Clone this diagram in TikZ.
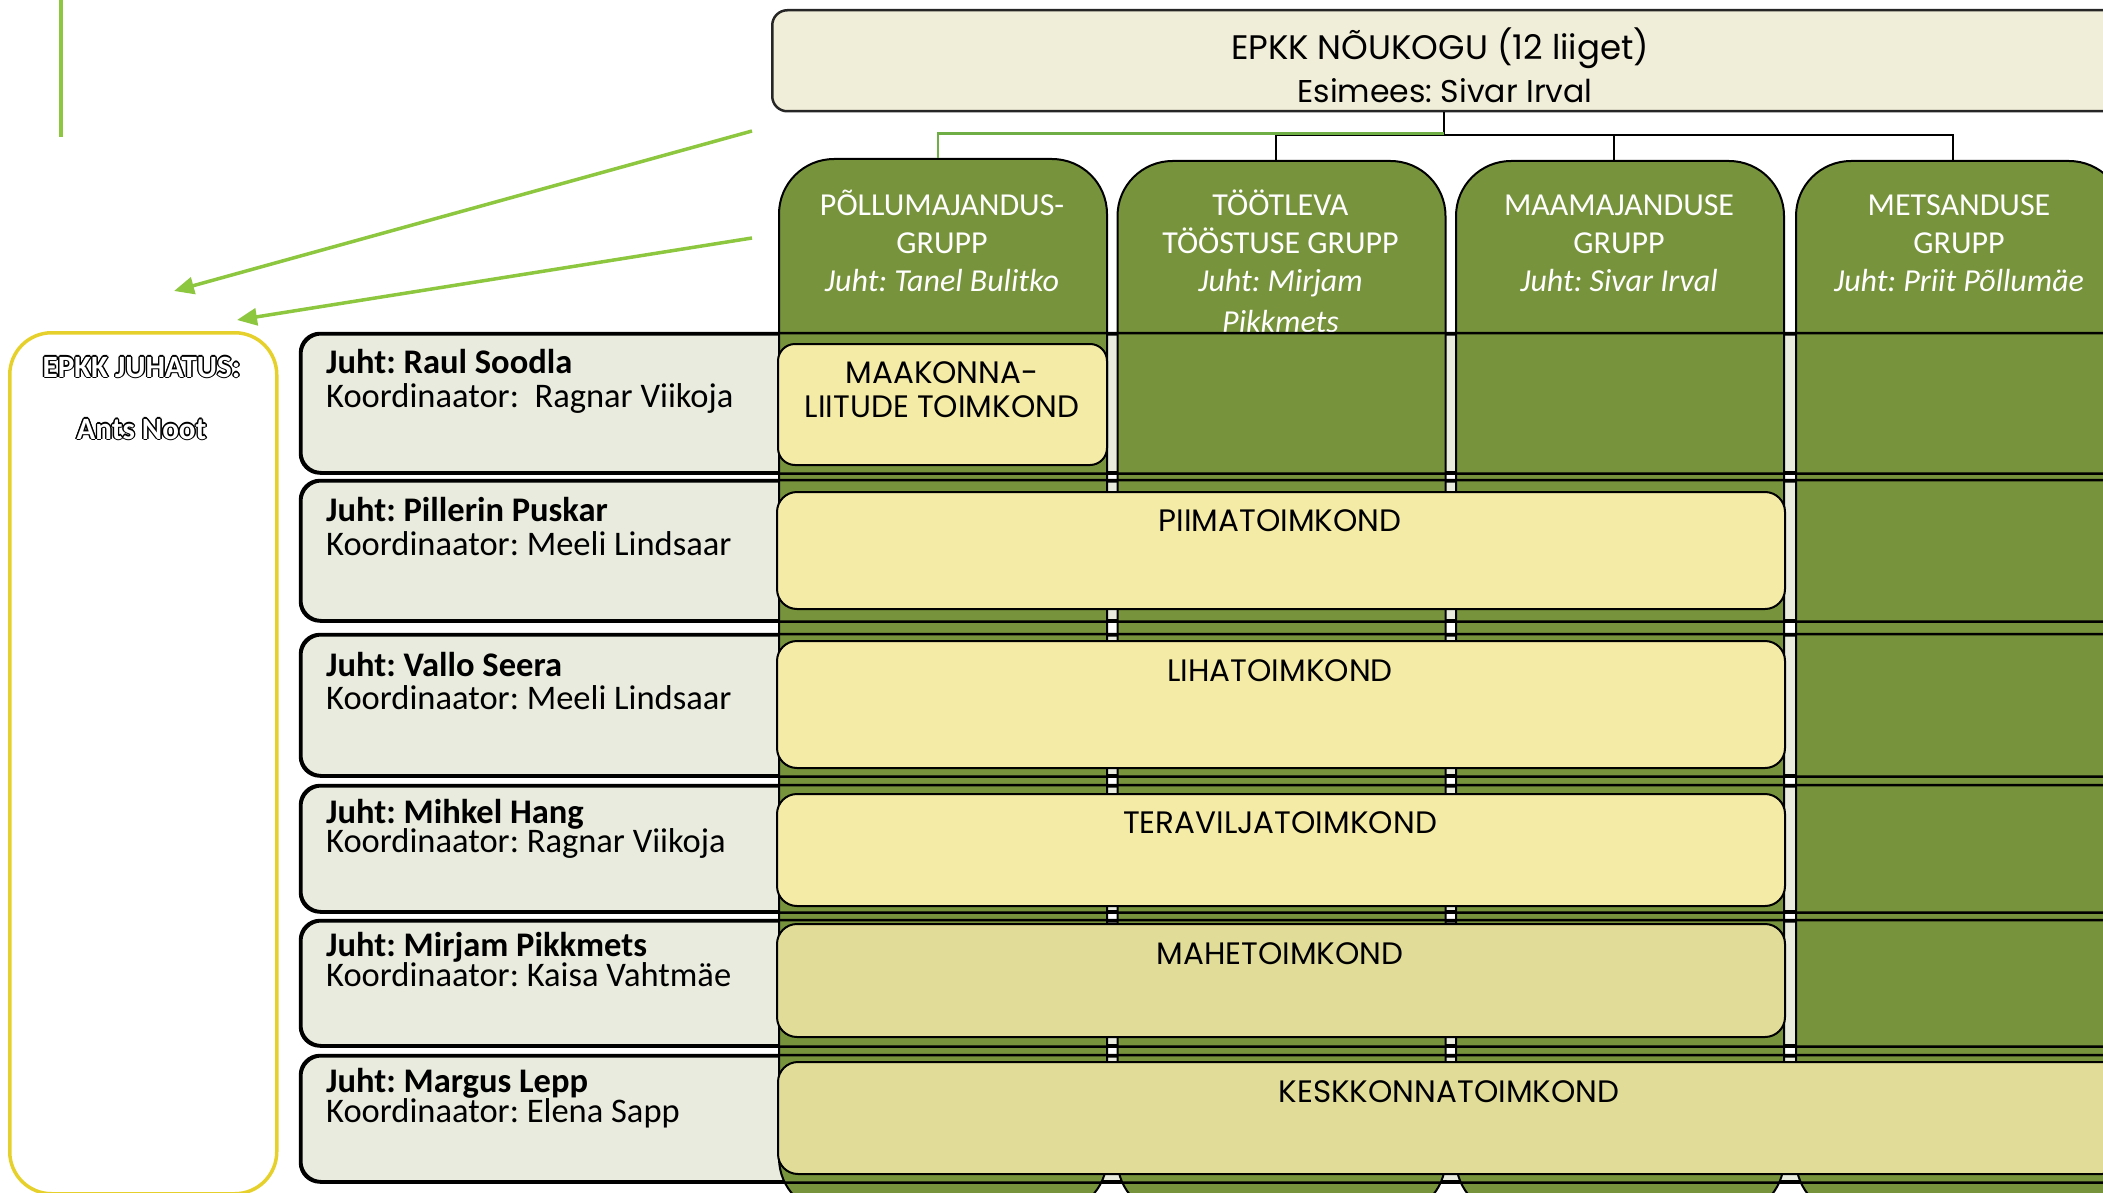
\documentclass[tikz,border=0pt]{standalone}
\usepackage{fontspec}
\setmainfont{Carlito}
\newfontfamily\gothic{Poppins}
\usetikzlibrary{arrows.meta}
\frenchspacing
\definecolor{colgreen}{HTML}{77933C}
\definecolor{rowfill}{HTML}{E8EBDD}
\definecolor{topfill}{HTML}{F0EDD8}
\definecolor{yel}{HTML}{F4EBA6}
\definecolor{yeld}{HTML}{E1DD98}
\definecolor{ltgreen}{HTML}{8DC63F}
\definecolor{cgreen}{HTML}{6FAE45}
\definecolor{jborder}{HTML}{E6D12C}
\tikzset{
  rowbox/.style={draw=black, line width=2.5pt, fill=rowfill, rounded corners=20pt, anchor=north west, inner sep=0pt, minimum width=1840pt},
  rowline/.style={draw=black, line width=2.5pt, rounded corners=20pt},
  colbox/.style={draw=black, line width=2pt, fill=colgreen, rounded corners=55pt, anchor=north west, inner sep=0pt, minimum width=328pt, minimum height=1054pt},
  tkbox/.style={draw=black, line width=2pt, rounded corners=20pt, anchor=north west, inner sep=0pt},
  rowtxt/.style={anchor=base west, inner sep=0pt, font=\frenchspacing\fontsize{34.5}{40}\selectfont},
  coltxt/.style={anchor=base, inner sep=0pt, text=white, font=\frenchspacing\fontsize{32}{38}\selectfont},
  tktxt/.style={anchor=base, inner sep=0pt, font=\frenchspacing\gothic\fontsize{31}{36}\selectfont},
  toptxt/.style={anchor=base, inner sep=0pt, font=\frenchspacing\gothic\fontsize{34}{40}\selectfont},
  jtxt/.style={anchor=base, inner sep=0pt, font=\frenchspacing\bfseries\fontsize{31}{36}\selectfont},
  arr/.style={draw=ltgreen, line width=3.5pt, -{Triangle[length=20pt,width=17pt]}},
  conn/.style={draw=black, line width=2pt},
  conngreen/.style={draw=cgreen, line width=2.5pt},
}
\begin{document}
\begin{tikzpicture}[x=1pt,y=-1pt]
\useasboundingbox (0,0) rectangle (2103,1193);
\clip (0,0) rectangle (2103,1193);

% top-left accent line
\coordinate (accA) at (61,0);
\coordinate (accB) at (61,137);
\draw[draw=ltgreen, line width=4pt] (accA) -- (accB);

% council box
\node[draw=black!85, line width=2.5pt, fill=topfill, rounded corners=15pt, anchor=north west,
      inner sep=0pt, minimum width=1346pt, minimum height=101pt] (top) at (771,9) {};
\node[toptxt] (topa) at (1440,59.5) {EPKK NÕUKOGU (12 liiget)};
\node[toptxt, font=\frenchspacing\gothic\fontsize{31.5}{38}\selectfont] (topb) at (1445,103) {Esimees: Sivar Irval};

% board box
\node[draw=jborder, line width=3.5pt, fill=white, rounded corners=42pt, anchor=north west,
      inner sep=0pt, minimum width=267pt, minimum height=861pt] (juh) at (8,331) {};
\foreach \a in {0,45,...,315}{
  \node[jtxt, text=black, xshift={1.4*cos(\a)}, yshift={1.4*sin(\a)}] (jA\a) at (141.5,377) {EPKK JUHATUS:};
  \node[jtxt, text=black, xshift={1.4*cos(\a)}, yshift={1.4*sin(\a)}] (jB\a) at (141.5,439) {Ants Noot};
}
\node[jtxt, text=white] (ja) at (141.5,377) {EPKK JUHATUS:};
\node[jtxt, text=white] (jb) at (141.5,439) {Ants Noot};

% arrows
\coordinate (a1s) at (752,131);
\coordinate (a1e) at (174,291);
\coordinate (a2s) at (752,238);
\coordinate (a2e) at (237,320);
\draw[arr] (a1s) -- (a1e);
\draw[arr] (a2s) -- (a2e);

% row boxes (fill)
\node[rowbox, minimum height=138pt] (r1) at (300,333) {};
\node[rowbox, minimum height=139pt] (r2) at (300,480) {};
\node[rowbox, minimum height=140pt] (r3) at (300,634) {};
\node[rowbox, minimum height=125pt] (r4) at (300,785) {};
\node[rowbox, minimum height=124pt] (r5) at (300,920) {};
\node[rowbox, minimum height=125pt] (r6) at (300,1055) {};

% row texts
\node[rowtxt] (r1a) at (326,373) {\textbf{Juht: Raul Soodla}};
\node[rowtxt] (r1b) at (326,407) {Koordinaator:\ \ Ragnar Viikoja};
\node[rowtxt] (r2a) at (326,521) {\textbf{Juht: Pillerin Puskar}};
\node[rowtxt] (r2b) at (326,555) {Koordinaator: Meeli Lindsaar};
\node[rowtxt] (r3a) at (326,676) {\textbf{Juht: Vallo Seera}};
\node[rowtxt] (r3b) at (326,709) {Koordinaator: Meeli Lindsaar};
\node[rowtxt] (r4a) at (326,823) {\textbf{Juht: Mihkel Hang}};
\node[rowtxt] (r4b) at (326,852) {Koordinaator: Ragnar Viikoja};
\node[rowtxt] (r5a) at (326,956) {\textbf{Juht: Mirjam Pikkmets}};
\node[rowtxt] (r5b) at (326,986) {Koordinaator: Kaisa Vahtmäe};
\node[rowtxt] (r6a) at (326,1092) {\textbf{Juht: Margus Lepp}};
\node[rowtxt] (r6b) at (326,1122) {Koordinaator: Elena Sapp};

% connectors from council
\coordinate (bus) at (1444,135.5);
\draw[conn] (top.south -| bus) -- (bus);

% green columns
\node[colbox] (c1) at (778,158) {};
\node[colbox] (c2) at (1116.5,160) {};
\node[colbox] (c3) at (1455,160) {};
\node[colbox] (c4) at (1795,160) {};

\draw[conn] ([xshift=-6pt]c2.north) |- (bus) -| ([xshift=-7pt]c4.north);
\draw[conn] ([xshift=-6pt]c3.north) -- ([xshift=-6pt]c3.north |- bus);
\draw[conngreen] ([xshift=-5pt]c1.north) |- ([yshift=2pt]bus);

% column texts
\node[coltxt] (c1a) at (942,215) {PÕLLUMAJANDUS-};
\node[coltxt] (c1b) at (942,253.5) {GRUPP};
\node[coltxt] (c1c) at (942,291) {\itshape Juht: Tanel Bulitko};
\node[coltxt] (c2a) at (1280.5,215) {TÖÖTLEVA};
\node[coltxt] (c2b) at (1280.5,253.5) {TÖÖSTUSE GRUPP};
\node[coltxt] (c2c) at (1280.5,291) {\itshape Juht: Mirjam};
\node[coltxt] (c2d) at (1280.5,332) {\itshape Pikkmets};
\node[coltxt] (c3a) at (1619,215) {MAAMAJANDUSE};
\node[coltxt] (c3b) at (1619,253.5) {GRUPP};
\node[coltxt] (c3c) at (1619,291) {\itshape Juht: Sivar Irval};
\node[coltxt] (c4a) at (1959,215) {METSANDUSE};
\node[coltxt] (c4b) at (1959,253.5) {GRUPP};
\node[coltxt] (c4c) at (1959,291) {\itshape Juht: Priit Põllumäe};

% row outlines over columns
\foreach \r in {r1,r2,r3,r4,r5,r6}{
  \draw[rowline] (\r.north west) rectangle (\r.south east);
}

% committees
\node[tkbox, fill=yel, rounded corners=17pt, minimum width=329pt, minimum height=121pt] (k1) at (777,343) {};
\node[tktxt] (k1a) at (942,383) {MAAKONNA-};
\node[tktxt] (k1b) at (942,417) {LIITUDE TOIMKOND};
\node[tkbox, fill=yel, minimum width=1008pt, minimum height=117pt] (k2) at (776,491) {};
\node[tktxt] (k2a) at (1280,531) {PIIMATOIMKOND};
\node[tkbox, fill=yel, minimum width=1008pt, minimum height=127pt] (k3) at (776,640) {};
\node[tktxt] (k3a) at (1280,681) {LIHATOIMKOND};
\node[tkbox, fill=yel, minimum width=1008pt, minimum height=112pt] (k4) at (776,793) {};
\node[tktxt] (k4a) at (1280,833) {TERAVILJATOIMKOND};
\node[tkbox, fill=yeld, minimum width=1008pt, minimum height=113pt] (k5) at (776,923) {};
\node[tktxt] (k5a) at (1280,964) {MAHETOIMKOND};
\node[tkbox, fill=yeld, minimum width=1344pt, minimum height=112pt] (k6) at (777,1061) {};
\node[tktxt] (k6a) at (1449,1102) {KESKKONNATOIMKOND};
\end{tikzpicture}
\end{document}
